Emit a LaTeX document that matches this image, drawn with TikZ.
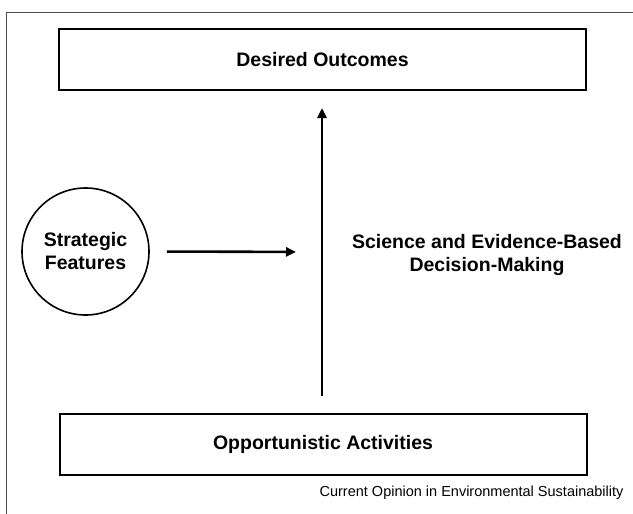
\documentclass[tikz,border=0pt]{standalone}
\usepackage{fontspec}
\setmainfont{Liberation Sans}
\usepackage{tikz}
\usetikzlibrary{shapes,arrows.meta,positioning,calc}

\begin{document}
\begin{tikzpicture}[
    x=1pt, y=-1pt,
    stage/.style={rectangle, minimum width=527pt, minimum height=61pt, text centered, draw=black, line width=2pt, font=\fontsize{19.5}{23}\selectfont\bfseries},
    feature/.style={circle, minimum size=127pt, inner sep=0pt, align=center, draw=black, line width=1.6pt, font=\fontsize{19.5}{23}\selectfont\bfseries},
    flow/.style={-{Triangle[length=10pt,width=9pt]}, line width=2.6pt}
]
\useasboundingbox (0,0) rectangle (633,514);

% Frame
\draw[black!70, line width=1.3pt] (6.5,514) -- (6.5,12.7) -- (633,12.7);

% Boxes
\node[stage] (outcomes) at (322.5,59.5) {Desired Outcomes};
\node[stage] (activities) at (323,444) {Opportunistic Activities};
\node[feature] (features) at (85.5,251.5) {Strategic\\Features};
\node[align=center, font=\fontsize{19.5}{23}\selectfont\bfseries] (decision) at (487,255) {Science and Evidence-Based\\Decision-Making};
\coordinate (junction) at (322,252);

% Arrows
\draw[flow, shorten <=17pt, shorten >=17pt] (activities.north -| junction) -- (outcomes.south -| junction);
\draw[flow, shorten <=17pt, shorten >=26pt] (features.east) -- (junction);

% Caption
\node[anchor=east, font=\fontsize{14.5}{17}\selectfont] (source) at (627,493) {Current Opinion in Environmental Sustainability};

\end{tikzpicture}
\end{document}
